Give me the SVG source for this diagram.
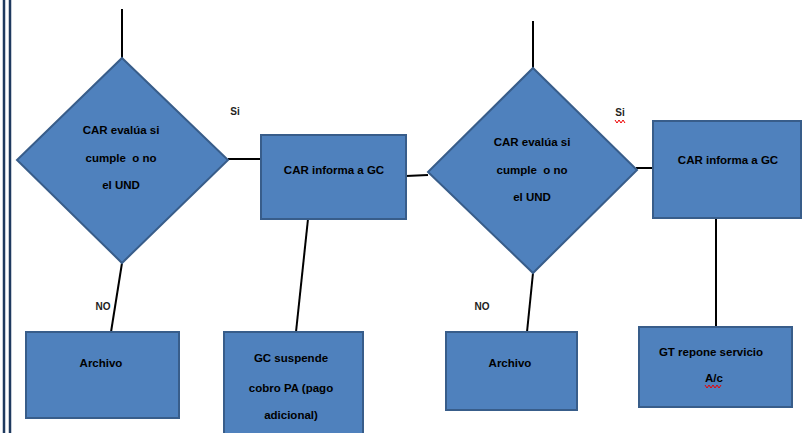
<svg xmlns="http://www.w3.org/2000/svg" width="807" height="433" viewBox="0 0 807 433">
<style>
.n{fill:#4F81BD;stroke:#385D8A;stroke-width:2}
.t{font-family:"Liberation Sans",Arial,sans-serif;font-size:11.5px;font-weight:bold;fill:#000;text-anchor:middle;white-space:pre}
.l{font-family:"Liberation Sans",Arial,sans-serif;font-size:10px;font-weight:bold;fill:#222;text-anchor:middle}
.c{stroke:#000;stroke-width:2;fill:none}
</style>
<rect width="807" height="433" fill="#fff"/>
<line x1="4" y1="0" x2="4" y2="433" stroke="#1F3A5F" stroke-width="2.5"/>
<line x1="10" y1="0" x2="10" y2="433" stroke="#1F3A5F" stroke-width="2.5"/>
<g id="connectors">
<line class="c" x1="122" y1="9" x2="122" y2="58"/>
<line class="c" x1="228" y1="159" x2="260" y2="159"/>
<line class="c" x1="122" y1="263" x2="111" y2="332"/>
<line class="c" x1="308" y1="219" x2="296" y2="332"/>
<line class="c" x1="406" y1="176" x2="428" y2="175"/>
<line class="c" x1="533" y1="21" x2="533" y2="68"/>
<line class="c" x1="636" y1="168" x2="653" y2="168"/>
<line class="c" x1="533" y1="273" x2="527" y2="332"/>
<line class="c" x1="716" y1="218" x2="716" y2="327"/>
</g>
<g id="d1">
<polygon class="n" points="122,58 228,160 122,263 17,160"/>
<text class="t" x="121" y="134">CAR evalúa si</text>
<text class="t" x="121" y="162" xml:space="preserve">cumple  o no</text>
<text class="t" x="121" y="189">el UND</text>
</g>
<g id="lbl-si1"><text class="l" x="235" y="115">Si</text></g>
<g id="b1">
<rect class="n" x="261" y="135" width="145" height="84"/>
<text class="t" x="334" y="174">CAR informa a GC</text>
</g>
<g id="d2">
<polygon class="n" points="533,68 637,170 533,273 428,172"/>
<text class="t" x="532" y="146">CAR evalúa si</text>
<text class="t" x="532" y="174" xml:space="preserve">cumple  o no</text>
<text class="t" x="532" y="201">el UND</text>
</g>
<g id="lbl-si2"><text class="l" x="620" y="116">Si</text>
<path d="M615,120 l2,3 l2,-3 l2,3 l2,-3 l2,3" stroke="#E00" stroke-width="1" fill="none"/></g>
<g id="b2">
<rect class="n" x="653" y="121" width="148" height="97"/>
<text class="t" x="728" y="164">CAR informa a GC</text>
</g>
<g id="a1">
<rect class="n" x="26" y="332" width="153" height="86"/>
<text class="t" x="101" y="367">Archivo</text>
</g>
<g id="lbl-no1"><text class="l" x="103" y="310">NO</text></g>
<g id="b3">
<rect class="n" x="224" y="332" width="139" height="110"/>
<text class="t" x="291" y="362">GC suspende</text>
<text class="t" x="291" y="392">cobro PA (pago</text>
<text class="t" x="291" y="419">adicional)</text>
</g>
<g id="a2">
<rect class="n" x="446" y="332" width="131" height="78"/>
<text class="t" x="510" y="367">Archivo</text>
</g>
<g id="lbl-no2"><text class="l" x="482" y="310">NO</text></g>
<g id="b4">
<rect class="n" x="639" y="327" width="153" height="80"/>
<text class="t" x="711" y="356">GT repone servicio</text>
<text class="t" x="714" y="382">A/c</text>
<path d="M705,385 l2,3 l2,-3 l2,3 l2,-3 l2,3 l2,-3 l2,3 l2,-3" stroke="#E00" stroke-width="1" fill="none"/>
</g>
</svg>
